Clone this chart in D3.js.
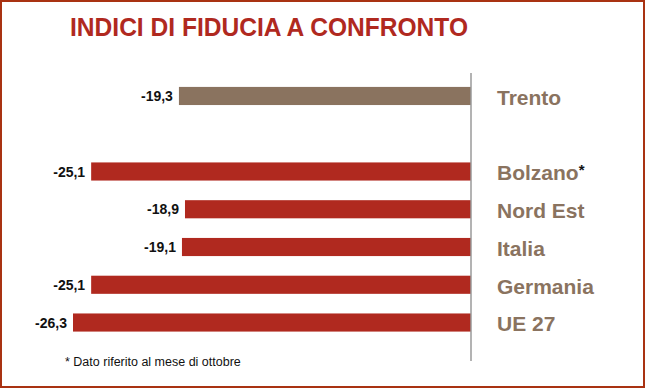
<!DOCTYPE html>
<html>
<head>
<meta charset="utf-8">
<script src="https://cdn.jsdelivr.net/npm/d3@7"></script>
<style>
html,body{margin:0;padding:0;background:#fff;}
svg{display:block;}
text{font-family:"Liberation Sans",Arial,sans-serif;}
</style>
</head>
<body>
<svg id="chart" width="645" height="388"></svg>
<script>
const title = "INDICI DI FIDUCIA A CONFRONTO";
const categories = ["Trento", "", "Bolzano", "Nord Est", "Italia", "Germania", "UE 27"];
const values = [-19.3, null, -25.1, -18.9, -19.1, -25.1, -26.3];
const valueLabels = ["-19,3", "", "-25,1", "-18,9", "-19,1", "-25,1", "-26,3"];
const asterisk = [false, false, true, false, false, false, false];
const barColors = ["#8a735f", null, "#b0291f", "#b0291f", "#b0291f", "#b0291f", "#b0291f"];
const footnote = "* Dato riferito al mese di ottobre";

const svg = d3.select("#chart");
const W = 645, H = 388;

// border
svg.append("rect").attr("x", 1).attr("y", 1).attr("width", W - 2).attr("height", H - 2)
  .attr("fill", "#fff").attr("stroke", "#a93212").attr("stroke-width", 2);

// title
svg.append("text").attr("x", 70).attr("y", 36)
  .attr("font-size", 25).attr("font-weight", "bold").attr("fill", "#b0291f")
  .attr("textLength", 398).attr("lengthAdjust", "spacingAndGlyphs")
  .text(title);

const x = d3.scaleLinear().domain([-26.3, 0]).range([73, 471]);
const y = d3.scaleBand().domain(d3.range(categories.length))
  .range([77.1, 341.4]).paddingInner(0.52).paddingOuter(0.26);

const data = categories.map((c, i) => ({c, v: values[i], lab: valueLabels[i], ast: asterisk[i], col: barColors[i], i}));
const present = data.filter(d => d.v !== null);

// bars
svg.append("g").selectAll("rect").data(present).join("rect")
  .attr("x", d => x(d.v)).attr("width", d => x(0) - x(d.v))
  .attr("y", d => y(d.i)).attr("height", y.bandwidth())
  .attr("fill", d => d.col);

// axis line at zero
svg.append("line").attr("x1", x(0)).attr("x2", x(0)).attr("y1", 73).attr("y2", 361)
  .attr("stroke", "#9a9a9a").attr("stroke-width", 1.5);

// value labels
svg.append("g").selectAll("text").data(present).join("text")
  .attr("x", d => x(d.v) - 6).attr("y", d => y(d.i) + y.bandwidth() / 2)
  .attr("dy", "0.36em").attr("text-anchor", "end")
  .attr("font-size", 14).attr("font-weight", "bold").attr("fill", "#111")
  .text(d => d.lab);

// category labels
const cl = svg.append("g").selectAll("text").data(present).join("text")
  .attr("x", 497).attr("y", d => y(d.i) + y.bandwidth() / 2)
  .attr("dy", "0.42em")
  .attr("font-size", 21).attr("font-weight", "bold").attr("fill", "#8a735f");
cl.append("tspan").text(d => d.c);
cl.filter(d => d.ast).append("tspan").attr("fill", "#111").attr("font-size", 15).attr("dy", "-0.35em").text("*");

// footnote
svg.append("text").attr("x", 65).attr("y", 366)
  .attr("font-size", 12.5).attr("fill", "#111").text(footnote);
</script>
</body>
</html>
